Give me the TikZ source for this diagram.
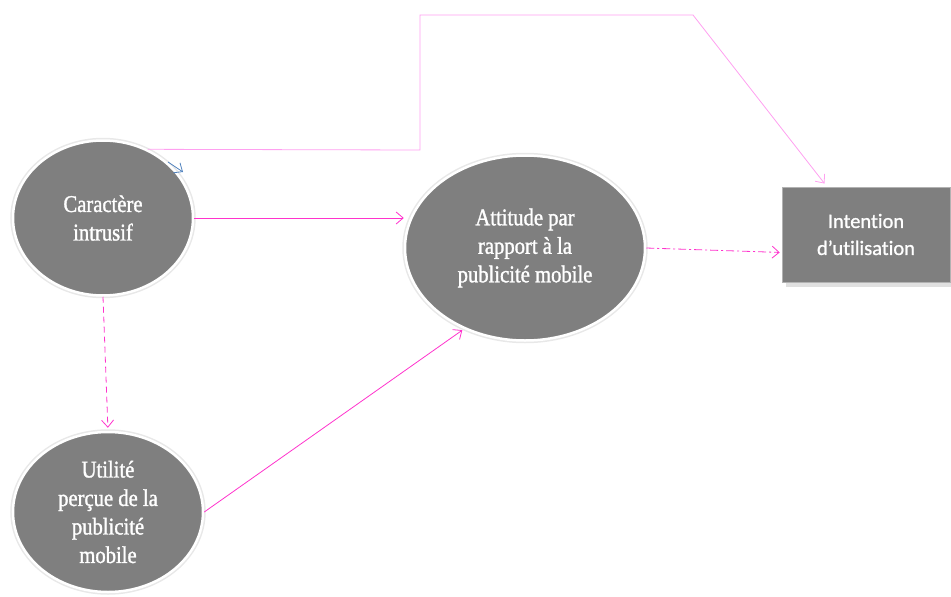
\documentclass[tikz,border=0pt]{standalone}
\usepackage{fontspec}
\usetikzlibrary{shapes.geometric,arrows.meta}
\newfontfamily\serifc[FakeStretch=0.86,FakeBold=1.3]{Liberation Serif}
\newfontfamily\sanc[Ligatures=NoCommon,FakeBold=1]{Carlito}
\definecolor{nodegray}{RGB}{127,127,127}
\definecolor{mag}{RGB}{255,51,204}
\definecolor{lightmag}{RGB}{255,160,240}
\definecolor{tipblue}{RGB}{79,129,189}
\tikzset{
  oval/.style={ellipse, fill=nodegray, draw=white, line width=2.5pt,
    preaction={draw=black!9, line width=5.5pt},
    text=white, align=center, inner sep=0pt,
    font=\serifc\fontsize{24}{28.5}\selectfont},
  boxnode/.style={rectangle, fill=nodegray, draw=black!30, line width=0.6pt,
    text=white, align=center, minimum width=168pt, minimum height=95pt,
    font=\sanc\fontsize{20.5}{27}\selectfont},
  tip/.style={-{Straight Barb[length=7pt,width=12pt,line width=0.8pt]}},
  link/.style={draw=mag, line width=0.8pt, tip},
}
\begin{document}
\begin{tikzpicture}[x=1pt,y=-1pt]
\useasboundingbox (0,0) rectangle (951,597);
% nodes
\node[oval, minimum width=180pt, minimum height=155pt] (c1) at (103,218) {Caractère\\intrusif};
\node[oval, minimum width=240pt, minimum height=185pt] (a) at (525,248) {Attitude par\\rapport à la\\publicité mobile};
\node[oval, minimum width=190pt, minimum height=160pt] (u) at (108,512) {Utilité\\perçue de la\\publicité\\mobile};
\fill[black!12] (786,191) rectangle (953,287);
\node[boxnode] (r) at (866,234.5) {Intention\\d’utilisation};
% connectors
\draw[link] (c1.east) -- (c1.east -| a.west);
\draw[link, dash pattern=on 6pt off 4pt, shorten >=3pt] (c1.south) -- (u.north);
\draw[link, shorten >=2pt] (u.east) -- (a.233);
\draw[link, dash pattern=on 8pt off 3pt on 2pt off 3pt, shorten >=2pt] (a.east) -- ([yshift=-18pt]r.west);
\coordinate (e1) at (420,150);
\coordinate (e2) at (420,15);
\coordinate (e3) at (693,15);
\draw[draw=lightmag, line width=0.8pt, tip, shorten >=4pt] (c1.57.5) -- (e1) -- (e2) -- (e3) -- (r.north -| 827,0);
\coordinate (b0) at (168,162);
\coordinate (b1) at (183,172);
\draw[draw=tipblue, line width=0.8pt, -{Straight Barb[length=7pt,width=12pt,line width=0.8pt]}] (b0) -- (b1);
\end{tikzpicture}
\end{document}
